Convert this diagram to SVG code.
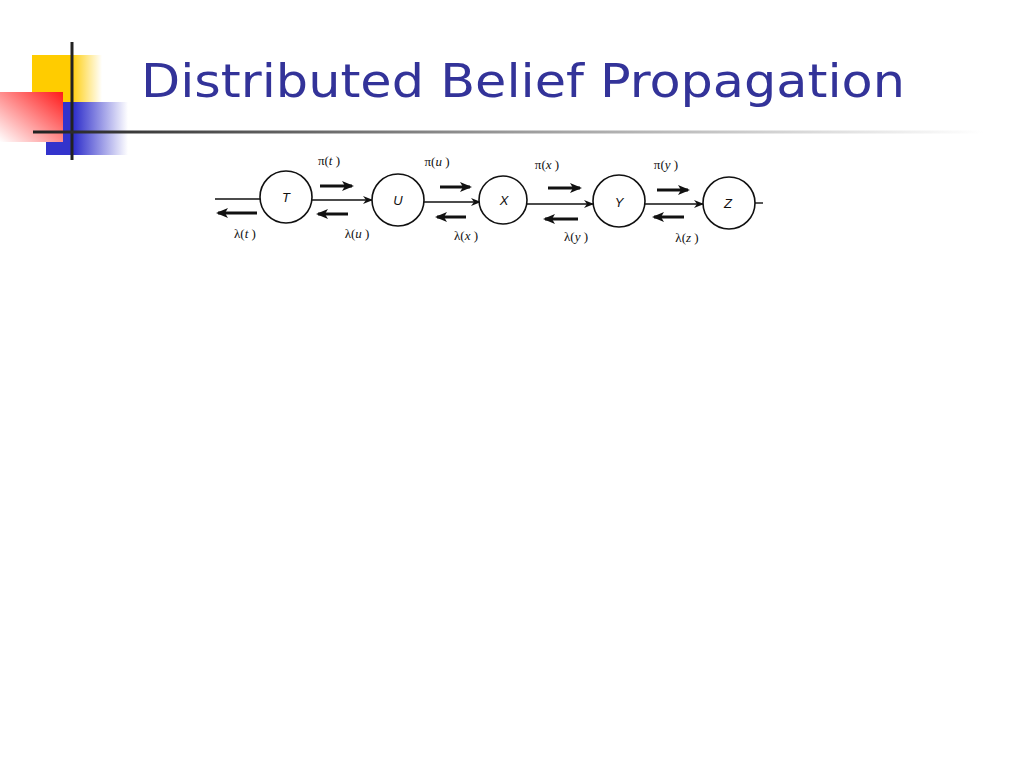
<svg xmlns="http://www.w3.org/2000/svg" width="1024" height="768" viewBox="0 0 1024 768">
<defs>
<linearGradient id="gy" x1="0" y1="0" x2="1" y2="0"><stop offset="0.55" stop-color="#ffcc00"/><stop offset="1" stop-color="#ffcc00" stop-opacity="0"/></linearGradient>
<linearGradient id="gb" x1="0" y1="0" x2="1" y2="0"><stop offset="0.35" stop-color="#3333cc"/><stop offset="1" stop-color="#3333cc" stop-opacity="0"/></linearGradient>
<linearGradient id="gr" x1="1" y1="0" x2="0" y2="1"><stop offset="0" stop-color="#ff1a1a"/><stop offset="1" stop-color="#ffffff"/></linearGradient>
<linearGradient id="gl" x1="0" y1="0" x2="1" y2="0"><stop offset="0" stop-color="#222"/><stop offset="0.5" stop-color="#999"/><stop offset="1" stop-color="#fff"/></linearGradient>
<marker id="ah" markerWidth="10" markerHeight="8" refX="9" refY="4" orient="auto" markerUnits="userSpaceOnUse"><path d="M0,0 L10,4 L0,8 L3,4 Z" fill="#111"/></marker>
<marker id="th" markerWidth="12" markerHeight="10" refX="10" refY="5" orient="auto" markerUnits="userSpaceOnUse"><path d="M0,0 L12,5 L0,10 L3,5 Z" fill="#111"/></marker>
</defs>
<style>
.title{font-family:"DejaVu Sans Condensed","DejaVu Sans",Verdana,sans-serif;font-size:47px;fill:#333399}
.node{fill:#fff;stroke:#111;stroke-width:1.6}
.nl{font-family:"Liberation Sans",Arial,sans-serif;font-style:italic;font-size:13px;fill:#111;text-anchor:middle}
.ml{font-family:"Liberation Serif","Times New Roman",serif;font-size:13px;fill:#111;text-anchor:middle}
.edge{stroke:#111;stroke-width:1.4;fill:none}
.msg{stroke:#111;stroke-width:3;fill:none}
</style>
<g id="decor">
<rect x="32" y="55" width="70" height="47" fill="url(#gy)"/>
<rect x="46" y="102" width="82" height="53" fill="url(#gb)"/>
<rect x="0" y="92" width="63" height="50" fill="url(#gr)"/>
<line x1="72" y1="42" x2="72" y2="160" stroke="#222" stroke-width="3"/>
<rect x="33" y="130.5" width="950" height="3" fill="url(#gl)"/>
</g>
<text class="title" x="141" y="97" textLength="764" lengthAdjust="spacingAndGlyphs">Distributed Belief Propagation</text>
<g id="connectors">
<line class="edge" x1="215" y1="199" x2="260" y2="199"/>
<line class="edge" x1="312" y1="200" x2="372" y2="200" marker-end="url(#ah)"/>
<line class="edge" x1="424" y1="202" x2="480" y2="202" marker-end="url(#ah)"/>
<line class="edge" x1="527" y1="204" x2="593" y2="204" marker-end="url(#ah)"/>
<line class="edge" x1="645" y1="204" x2="703" y2="204" marker-end="url(#ah)"/>
<line class="edge" x1="755" y1="203" x2="763" y2="203"/>
<line class="msg" x1="257" y1="213" x2="218" y2="213" marker-end="url(#th)"/>
<line class="msg" x1="320" y1="186" x2="352" y2="186" marker-end="url(#th)"/>
<line class="msg" x1="348" y1="214" x2="318" y2="214" marker-end="url(#th)"/>
<line class="msg" x1="440" y1="187" x2="470" y2="187" marker-end="url(#th)"/>
<line class="msg" x1="466" y1="217" x2="437" y2="217" marker-end="url(#th)"/>
<line class="msg" x1="548" y1="188" x2="580" y2="188" marker-end="url(#th)"/>
<line class="msg" x1="578" y1="219" x2="545" y2="219" marker-end="url(#th)"/>
<line class="msg" x1="657" y1="190" x2="688" y2="190" marker-end="url(#th)"/>
<line class="msg" x1="684" y1="217" x2="654" y2="217" marker-end="url(#th)"/>
</g>
<g id="labels">
<text class="ml" x="329" y="165">π(<tspan font-style="italic">t</tspan> )</text>
<text class="ml" x="437" y="166">π(<tspan font-style="italic">u</tspan> )</text>
<text class="ml" x="547" y="169">π(<tspan font-style="italic">x</tspan> )</text>
<text class="ml" x="666" y="169">π(<tspan font-style="italic">y</tspan> )</text>
<text class="ml" x="245" y="238">λ(<tspan font-style="italic">t</tspan> )</text>
<text class="ml" x="357" y="238">λ(<tspan font-style="italic">u</tspan> )</text>
<text class="ml" x="466" y="240">λ(<tspan font-style="italic">x</tspan> )</text>
<text class="ml" x="576" y="241">λ(<tspan font-style="italic">y</tspan> )</text>
<text class="ml" x="687" y="242">λ(<tspan font-style="italic">z</tspan> )</text>
</g>
<g id="node-T"><circle class="node" cx="286" cy="197" r="26"/><text class="nl" x="286" y="202">T</text></g>
<g id="node-U"><circle class="node" cx="398" cy="200" r="26"/><text class="nl" x="398" y="205">U</text></g>
<g id="node-X"><circle class="node" cx="503" cy="200" r="24"/><text class="nl" x="504" y="205">X</text></g>
<g id="node-Y"><circle class="node" cx="619" cy="201" r="26"/><text class="nl" x="619" y="207">Y</text></g>
<g id="node-Z"><circle class="node" cx="729" cy="203" r="26"/><text class="nl" x="728" y="208">Z</text></g>
</svg>
